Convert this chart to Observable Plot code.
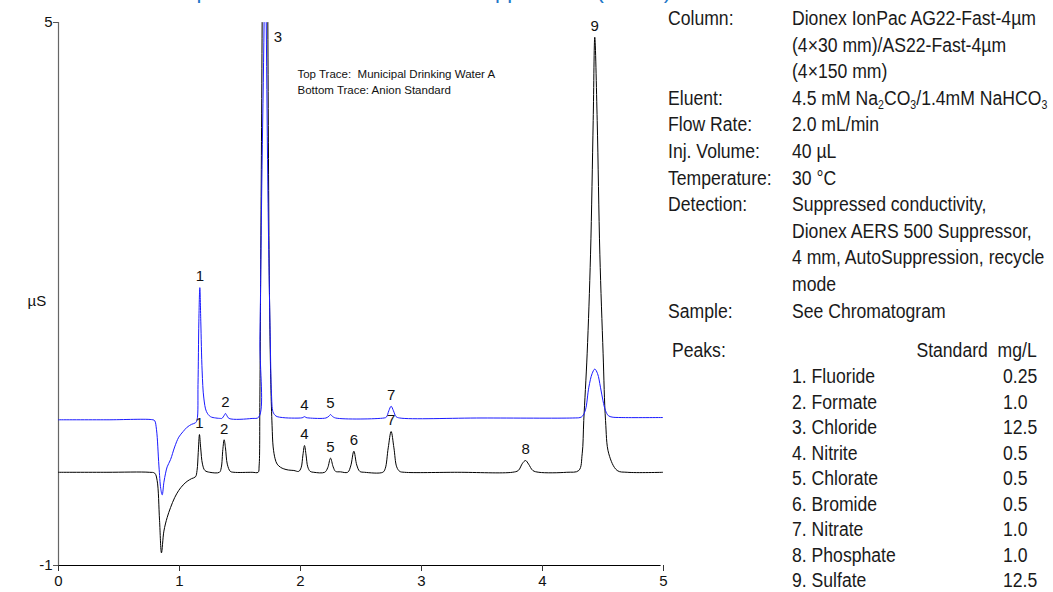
<!DOCTYPE html>
<html>
<head>
<meta charset="utf-8">
<script src="https://cdn.jsdelivr.net/npm/d3@7"></script>
<script src="https://cdn.jsdelivr.net/npm/@observablehq/plot@0.6"></script>
<style>
  body { margin: 0; background: #fff; }
  #wrap { position: relative; width: 1053px; height: 592px; overflow: hidden; }
  #title { position: absolute; right: 382px; top: -22px; text-align: right;
           font-family: Arial, "Liberation Sans", sans-serif; font-size: 22px; color: #1f78c8; white-space: nowrap; }
  #chart { position: absolute; left: 0; top: 0; }
  .cond { position: absolute; font-family: Arial, "Liberation Sans", sans-serif;
          font-size: 20px; color: #1a1a1a; white-space: nowrap; line-height: 1;
          transform: translateY(-50%) scaleX(0.88); transform-origin: left center; }
  .cond.right { transform-origin: right center; }
  .cond sub { font-size: 12px; vertical-align: -4px; line-height: 0; }
</style>
</head>
<body>
<div id="wrap">
  <div id="title">Separation of Anions with AutoSuppression (AERS)</div>
  <div id="chart"></div>
</div>
<script>
// Retention times (min) and conductivity (µS) of the anion standard trace
const standardTime = [
  0, 0.4, 0.75, 0.795, 0.815, 0.835, 0.851, 0.871, 0.898, 0.926, 0.96, 0.994, 1.03, 1.063, 1.1, 1.132,
  1.145, 1.155, 1.165, 1.175, 1.19, 1.21, 1.25,
  1.33, 1.345, 1.358, 1.369, 1.38, 1.395, 1.42, 1.45,
  1.6, 1.65, 1.658, 1.664, 1.672, 1.683, 1.695, 1.706, 1.718, 1.73, 1.742, 1.755, 1.765, 1.774, 1.79, 1.807, 1.835, 1.862, 1.9, 1.945, 1.985,
  2.005, 2.02, 2.033, 2.046, 2.06, 2.08, 2.11,
  2.2, 2.225, 2.248, 2.27, 2.29, 2.33,
  2.39, 2.415, 2.441, 2.465, 2.49, 2.53,
  2.68, 2.7, 2.725, 2.749, 2.772, 2.795, 2.82, 2.86,
  3.3, 3.75, 3.8, 3.835, 3.86, 3.885, 3.92, 3.97,
  4.2, 4.3, 4.328, 4.341, 4.369, 4.397, 4.419, 4.432, 4.452, 4.474, 4.501, 4.521, 4.548, 4.617, 4.7, 5
];
const standardValue = [
  0.03, 0.03, 0.03, 0.02, -0.06, -0.5, -0.86, -0.62, -0.47, -0.36, -0.25, -0.17, -0.11, -0.07, -0.04, -0.02,
  0.05, 0.25, 0.447, 0.3, 0.12, 0.05, 0.03,
  0.03, 0.08, 0.28, 0.389, 0.3, 0.12, 0.04, 0.03,
  0.03, 0.03, 0.1, 0.8, 2.5, 5, 9, 10.5, 9, 5, 2.2, 1.0, 0.55, 0.31, 0.18, 0.12, 0.085, 0.068, 0.055, 0.05, 0.04,
  0.08, 0.22, 0.326, 0.22, 0.09, 0.04, 0.03,
  0.03, 0.08, 0.186, 0.09, 0.04, 0.035,
  0.03, 0.1, 0.263, 0.11, 0.04, 0.03,
  0.03, 0.07, 0.3, 0.48, 0.3, 0.09, 0.04, 0.03,
  0.03, 0.03, 0.05, 0.13, 0.16, 0.12, 0.05, 0.03,
  0.03, 0.05, 0.234, 0.602, 1.339, 2.44, 3.917, 4.837, 3.917, 2.44, 1.339, 0.602, 0.234, 0.05, 0.03, 0.03
];

// Retention times (min) and conductivity (µS) of the drinking water sample trace
const sampleTime = [
  0, 0.4, 0.78, 0.795, 0.81, 0.83, 0.845, 0.857, 0.871, 0.885, 0.898, 0.926, 0.96, 0.994, 1.03, 1.063, 1.1, 1.132,
  1.145, 1.153, 1.16, 1.168, 1.176, 1.187, 1.201, 1.223, 1.256, 1.3, 1.34,
  1.35, 1.37, 1.38, 1.39, 1.41,
  1.6, 1.655, 1.665, 1.68, 1.699, 1.708, 1.717, 1.732, 1.75, 1.76, 1.772, 1.79, 1.807, 1.85, 1.9,
  2.0, 2.02, 2.033, 2.046, 2.07,
  2.21, 2.235, 2.248, 2.262, 2.29,
  2.69, 2.71, 2.73, 2.749, 2.768, 2.79, 2.82,
  3.5, 4.25, 4.31, 4.33, 4.355, 4.383, 4.41, 4.432, 4.455, 4.479, 4.5, 4.521, 4.545, 4.575, 4.65, 5
];
const sampleValue = [
  0.61, 0.61, 0.61, 0.6, 0.5, 0.1, -0.15, -0.219, -0.08, 0.02, 0.09, 0.17, 0.31, 0.418, 0.48, 0.528, 0.56, 0.577,
  0.61, 1.0, 1.7, 2.07, 1.7, 1.15, 0.85, 0.7, 0.645, 0.63, 0.625,
  0.625, 0.66, 0.68, 0.66, 0.625,
  0.625, 0.64, 1.5, 3.2, 5, 6.5, 5, 3.0, 1.5, 0.9, 0.7, 0.66, 0.645, 0.635, 0.63,
  0.63, 0.635, 0.645, 0.635, 0.63,
  0.63, 0.65, 0.668, 0.65, 0.63,
  0.63, 0.64, 0.71, 0.76, 0.71, 0.645, 0.63,
  0.63, 0.63, 0.635, 0.65, 0.72, 0.97, 1.12, 1.17, 1.12, 0.97, 0.82, 0.71, 0.655, 0.64, 0.635, 0.635
];

// Peak numbers marked on each trace, at the peak apex
const standardPeakIds = [1, 2, 4, 5, 6, 7, 8, 9];
const standardPeakTime = [1.165, 1.369, 2.033, 2.248, 2.441, 2.749, 3.86, 4.432];
const standardPeakValue = [0.447, 0.389, 0.326, 0.186, 0.263, 0.48, 0.16, 4.837];
const samplePeakIds = [1, 2, 4, 5, 7];
const samplePeakTime = [1.168, 1.38, 2.033, 2.248, 2.749];
const samplePeakValue = [2.07, 0.68, 0.645, 0.668, 0.76];
const chloridePeakTime = 1.706;

const xTicks = [0, 1, 2, 3, 4, 5];
const yTicks = [-1, 5];

// Conditions and peak table
const conditionLabels = ["Column:", "", "", "Eluent:", "Flow Rate:", "Inj. Volume:", "Temperature:",
  "Detection:", "", "", "", "Sample:"];
const conditionValues = ["Dionex IonPac AG22-Fast-4µm", "(4×30 mm)/AS22-Fast-4µm", "(4×150 mm)",
  "4.5 mM Na<sub>2</sub>CO<sub>3</sub>/1.4mM NaHCO<sub>3</sub>", "2.0 mL/min", "40 µL", "30 °C",
  "Suppressed conductivity,", "Dionex AERS 500 Suppressor,", "4 mm, AutoSuppression, recycle", "mode",
  "See Chromatogram"];
const peakNames = ["Fluoride", "Formate", "Chloride", "Nitrite", "Chlorate", "Bromide", "Nitrate", "Phosphate", "Sulfate"];
const peakStandardConc = ["0.25", "1.0", "12.5", "0.5", "0.5", "0.5", "1.0", "1.0", "12.5"];

const standardTrace = standardTime.map((t, i) => ({t, v: standardValue[i]}));
const sampleTrace = sampleTime.map((t, i) => ({t, v: sampleValue[i]}));
const standardPeaks = standardPeakIds.map((id, i) => ({id, t: standardPeakTime[i], v: standardPeakValue[i]}));
const samplePeaks = samplePeakIds.map((id, i) => ({id, t: samplePeakTime[i], v: samplePeakValue[i]}));

const chart = Plot.plot({
  width: 1053,
  height: 592,
  marginLeft: 58,
  marginRight: 390,
  marginTop: 22,
  marginBottom: 27,
  x: {domain: [0, 5]},
  y: {domain: [-1, 5]},
  style: {fontFamily: "Arial, 'Liberation Sans', sans-serif", fontSize: "15px", color: "#111", background: "transparent", overflow: "visible"},
  marks: [
    Plot.ruleX([0], {stroke: "#666", strokeWidth: 1.2}),
    Plot.ruleY([-1], {x1: 0, x2: 4.98, stroke: "#000", strokeWidth: 1.2}),
    Plot.axisX({ticks: xTicks, tickSize: 6, tickPadding: 4, label: null, tickFormat: d => String(d), fontSize: 15, stroke: "#333"}),
    Plot.axisY({ticks: yTicks, tickSize: 5, tickPadding: 1, label: null, tickFormat: d => String(d), fontSize: 15, stroke: "#555"}),
    Plot.text(["µS"], {frameAnchor: "left", dx: -31, dy: 7, fontSize: 15}),
    Plot.line(standardTrace, {x: "t", y: "v", stroke: "#000", strokeWidth: 1, curve: "catmull-rom", clip: true}),
    Plot.line(sampleTrace, {x: "t", y: "v", stroke: "#1a1aff", strokeWidth: 1, curve: "catmull-rom", clip: true}),
    Plot.text(standardPeaks, {x: "t", y: "v", text: "id", dy: -11, fontSize: 15}),
    Plot.text(samplePeaks, {x: "t", y: "v", text: "id", dy: -11, fontSize: 15}),
    Plot.text(["3"], {x: chloridePeakTime, y: 5, dx: 13, dy: 15, fontSize: 15}),
    Plot.text(["Top Trace:  Municipal Drinking Water A\nBottom Trace: Anion Standard"],
      {x: 1.975, y: 4.36, textAnchor: "start", lineAnchor: "middle", lineHeight: 1.4, fontSize: 11.5})
  ]
});
document.getElementById("chart").append(chart);

// Chromatographic conditions and peak list on the right
const wrap = document.getElementById("wrap");
function addText(html, left, top, cls) {
  const d = document.createElement("div");
  d.className = "cond" + (cls ? " " + cls : "");
  d.innerHTML = html;
  if (cls === "right") d.style.right = left + "px"; else d.style.left = left + "px";
  d.style.top = top + "px";
  wrap.append(d);
}
conditionLabels.forEach((lab, i) => {
  const y = 18 + i * 26.6;
  if (lab) addText(lab, 668, y);
  addText(conditionValues[i], 792, y);
});
addText("Peaks:", 672, 350);
addText("Standard&nbsp; mg/L", 16, 350, "right");
peakNames.forEach((name, i) => {
  const y = 376 + i * 25.5;
  addText(`${i + 1}. ${name}`, 792, y);
  addText(peakStandardConc[i], 1003, y);
});
</script>
</body>
</html>
